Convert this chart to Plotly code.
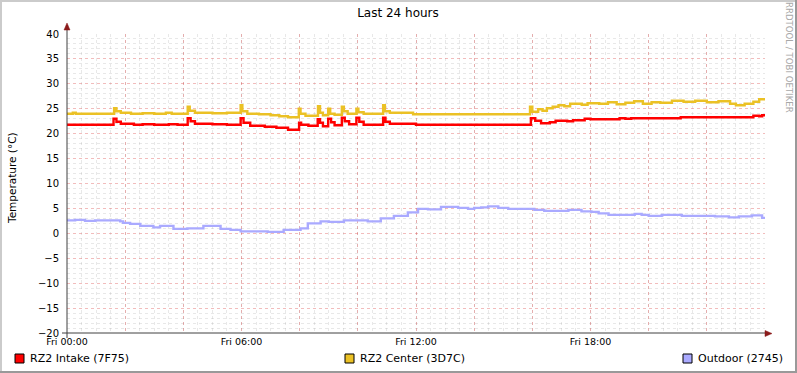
import plotly.graph_objects as go

# ---------------- data (hours since Fri 00:00, °C) ----------------
intake_t = [0.0, 1.60, 1.70, 1.85, 2.3, 2.6, 3.0, 3.5, 3.8, 4.15, 4.25, 4.4, 5.0, 5.5,
            5.97, 6.07, 6.3, 6.8, 7.2, 7.6, 7.98, 8.05, 8.3, 8.62, 8.7, 8.8, 8.98, 9.08,
            9.2, 9.45, 9.55, 9.7, 9.95, 10.05, 10.2, 10.87, 10.95, 11.1, 12.0, 15.95,
            16.1, 16.3, 16.6, 16.8, 17.2, 17.4, 17.8, 18.0, 19.0, 19.2, 19.4, 21.1,
            23.6, 23.8, 23.9, 24.0]
intake_v = [21.8, 23.0, 22.4, 22.0, 21.8, 21.9, 21.8, 21.9, 21.8, 23.1, 22.5, 22.0, 21.9, 21.8,
            23.1, 22.2, 21.6, 21.4, 21.2, 20.8, 22.2, 21.8, 21.6, 22.9, 22.2, 21.5, 23.0, 22.3,
            21.7, 23.2, 22.5, 21.9, 23.2, 22.4, 21.8, 23.2, 22.4, 22.0, 21.8, 23.1,
            22.6, 22.1, 22.3, 22.6, 22.5, 22.7, 23.0, 22.9, 23.1, 23.0, 23.1, 23.3,
            23.6, 23.5, 23.7, 23.7]

center_t = [0.0, 0.2, 0.3, 1.62, 1.70, 1.85, 2.2, 2.6, 3.0, 3.4, 3.6, 4.15, 4.22, 4.4,
            5.0, 5.5, 5.97, 6.03, 6.2, 6.6, 7.0, 7.3, 7.6, 7.97, 8.03, 8.2, 8.63, 8.7,
            8.8, 8.98, 9.05, 9.2, 9.45, 9.52, 9.65, 9.95, 10.02, 10.2, 10.87, 10.93, 11.1,
            11.9, 15.92, 16.0, 16.2, 16.35, 16.5, 16.7, 16.9, 17.1, 17.3, 17.7, 17.9, 18.3,
            18.6, 18.9, 19.2, 19.5, 19.8, 20.1, 20.4, 20.8, 21.2, 21.6, 22.0, 22.4, 22.8,
            23.0, 23.3, 23.6, 23.8, 24.0]
center_v = [24.0, 24.2, 24.0, 25.1, 24.5, 24.2, 24.0, 24.1, 24.0, 24.2, 24.0, 25.4, 24.6, 24.2,
            24.1, 24.2, 25.7, 24.5, 24.0, 23.9, 23.7, 23.5, 23.3, 25.0, 24.0, 23.6, 25.5, 24.2,
            23.7, 25.0, 24.0, 23.8, 25.4, 24.5, 24.0, 25.0, 24.3, 24.0, 25.7, 24.5, 24.2,
            23.9, 25.4, 24.4, 24.9, 24.6, 25.1, 25.4, 25.7, 25.5, 26.0, 25.8, 26.1, 26.0,
            26.3, 25.9, 26.2, 26.5, 26.0, 26.3, 26.2, 26.6, 26.4, 26.6, 26.3, 26.5, 26.0,
            25.7, 26.0, 26.4, 26.9, 26.9]

outdoor_t = [0.0, 0.28, 0.62, 0.97, 1.83, 1.93, 2.17, 2.52, 2.97, 3.2, 3.66, 4.14, 4.69,
             5.28, 5.62, 5.97, 6.9, 7.45, 8.03, 8.28, 8.72, 9.0, 9.52, 10.34, 10.79, 11.24,
             11.72, 12.07, 12.41, 12.86, 13.45, 13.79, 14.0, 14.24, 14.48, 14.83, 15.17,
             16.07, 16.41, 17.24, 17.69, 18.03, 18.28, 18.62, 19.52, 19.76, 20.0, 20.45,
             21.14, 22.28, 22.76, 23.1, 23.55, 23.9, 24.0]
outdoor_v = [2.6, 2.7, 2.5, 2.6, 2.4, 2.1, 1.9, 1.5, 1.2, 1.5, 0.9, 1.0, 1.5,
             0.9, 0.7, 0.4, 0.3, 0.7, 1.0, 2.0, 2.4, 2.3, 2.6, 2.4, 3.0, 3.5,
             4.2, 4.9, 4.8, 5.3, 5.1, 4.9, 5.1, 5.2, 5.4, 5.1, 4.9,
             4.7, 4.5, 4.7, 4.4, 4.3, 4.0, 3.7, 3.9, 3.7, 3.5, 3.7,
             3.5, 3.4, 3.2, 3.4, 3.6, 3.1, 3.1]

series_names = ["RZ2 Intake (7F75)", "RZ2 Center (3D7C)", "Outdoor (2745)"]
series_colors = ["#FF0000", "#EBC125", "#AAAAFF"]
series_t = [intake_t, center_t, outdoor_t]
series_v = [intake_v, center_v, outdoor_v]

x_tick_vals = [0, 6, 12, 18]
x_tick_text = ["Fri 00:00", "Fri 06:00", "Fri 12:00", "Fri 18:00"]
title_text = "Last 24 hours"
y_title = "Temperature (°C)"
watermark = "RRDTOOL / TOBI OETIKER"

# ---------------- layout geometry ----------------
FW, FH = 797, 373
L, R, T, B = 67, 32, 34, 40
W, H = FW - L - R, FH - T - B


def px(xp):
    return (xp - L) / W


def py(yp):
    return (T + H - yp) / H


FONT = "DejaVu Sans"
fig = go.Figure()
for name, col, t, v in zip(series_names, series_colors, series_t, series_v):
    fig.add_trace(go.Scatter(x=t, y=v, mode="lines", name=name,
                             line=dict(color=col, width=2.4, shape="hv"),
                             showlegend=False, hoverinfo="skip"))

all_major = list(range(0, 25, 2))
all_text = [x_tick_text[x_tick_vals.index(h)] if h in x_tick_vals else "" for h in all_major]

major_grid = "rgba(222,80,80,0.38)"
minor_grid = "rgba(160,160,160,0.24)"

fig.update_layout(
    width=FW, height=FH,
    margin=dict(l=L, r=R, t=T, b=B),
    paper_bgcolor="white", plot_bgcolor="white",
    font=dict(family=FONT, color="black", size=10),
    title=dict(text=title_text, x=(398) / FW, xanchor="center",
               y=1 - 13 / FH, yanchor="middle",
               font=dict(family=FONT, size=12, color="black")),
    xaxis=dict(range=[0, 24], tickmode="array", tickvals=all_major, ticktext=all_text,
               showgrid=True, gridcolor=major_grid, griddash="dot", gridwidth=1,
               zeroline=False, showline=False, ticks="",
               tickfont=dict(family=FONT, size=9.5), ticklabelstandoff=1,
               minor=dict(tick0=0, dtick=0.5, showgrid=True, gridcolor=minor_grid,
                          griddash="dot", gridwidth=1)),
    yaxis=dict(range=[-20, 40], tick0=0, dtick=5,
               showgrid=True, gridcolor=major_grid, griddash="dot", gridwidth=1,
               zeroline=False, showline=False, ticks="",
               tickfont=dict(family=FONT, size=10), ticklabelstandoff=7,
               minor=dict(tick0=0, dtick=1, showgrid=True, gridcolor=minor_grid,
                          griddash="dot", gridwidth=1)),
)

shapes = []
AX = "#404040"
ARROW = "#8B1A1A"
# axes lines
shapes.append(dict(type="line", xref="paper", yref="paper", x0=px(62), x1=px(766),
                   y0=0, y1=0, line=dict(color=AX, width=1), layer="above"))
shapes.append(dict(type="line", xref="paper", yref="paper", x0=0, x1=0,
                   y0=py(338), y1=py(28), line=dict(color=AX, width=1), layer="above"))
# arrow heads
shapes.append(dict(type="path", xref="paper", yref="paper",
                   path=f"M {px(765)} {py(330.5)} L {px(772)} {py(333.5)} L {px(765)} {py(336.5)} Z",
                   fillcolor=ARROW, line=dict(color=ARROW, width=0.5), layer="above"))
shapes.append(dict(type="path", xref="paper", yref="paper",
                   path=f"M {px(64)} {py(30)} L {px(67)} {py(23)} L {px(70)} {py(30)} Z",
                   fillcolor=ARROW, line=dict(color=ARROW, width=0.5), layer="above"))
# frame (3D shade)
shapes.append(dict(type="rect", xref="paper", yref="paper", x0=px(0), x1=px(FW), y0=py(0), y1=py(2),
                   fillcolor="#CBCBCB", line=dict(width=0)))
shapes.append(dict(type="rect", xref="paper", yref="paper", x0=px(0), x1=px(2), y0=py(0), y1=py(FH),
                   fillcolor="#CBCBCB", line=dict(width=0)))
shapes.append(dict(type="rect", xref="paper", yref="paper", x0=px(FW - 2), x1=px(FW), y0=py(0), y1=py(FH),
                   fillcolor="#999999", line=dict(width=0)))
shapes.append(dict(type="rect", xref="paper", yref="paper", x0=px(0), x1=px(FW), y0=py(FH - 2), y1=py(FH),
                   fillcolor="#999999", line=dict(width=0)))

annotations = []
# legend
legend_x = [15, 345, 683]
for name, col, lx in zip(series_names, series_colors, legend_x):
    shapes.append(dict(type="rect", xref="paper", yref="paper",
                       x0=px(lx), x1=px(lx + 9), y0=py(354), y1=py(363),
                       fillcolor=col, line=dict(color="black", width=1)))
    annotations.append(dict(text=name, xref="paper", yref="paper", x=px(lx + 13), y=py(358.5),
                            xanchor="left", yanchor="middle", showarrow=False,
                            font=dict(family=FONT, size=11, color="black")))

annotations.append(dict(text=y_title, xref="paper", yref="paper", x=px(12), y=py(178),
                        xanchor="center", yanchor="middle", textangle=-90, showarrow=False,
                        font=dict(family=FONT, size=10.5, color="black")))
annotations.append(dict(text=watermark, xref="paper", yref="paper", x=px(789), y=py(57),
                        xanchor="center", yanchor="middle", textangle=90, showarrow=False,
                        font=dict(family=FONT, size=8.6, color="#A8A8A8")))

fig.update_layout(shapes=shapes, annotations=annotations)
fig.write_html("out.html", config={"displayModeBar": False},
               post_script="document.body.style.margin='0';document.body.style.overflow='hidden';")
